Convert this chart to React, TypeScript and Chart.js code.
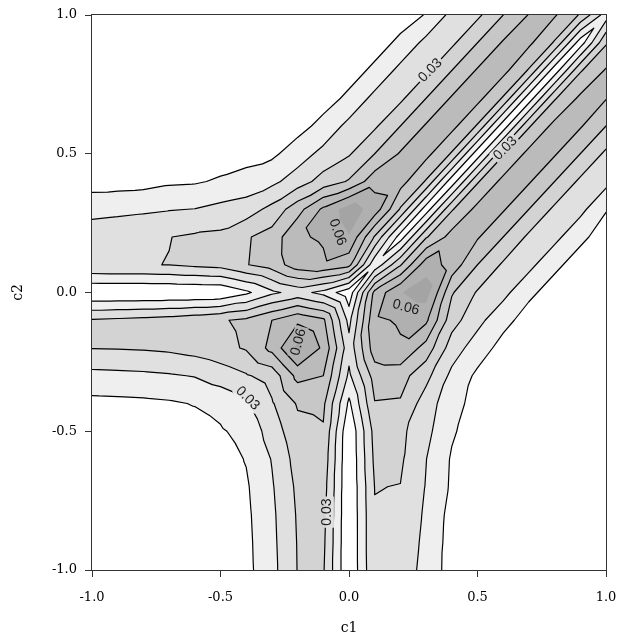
import React, { useEffect, useRef } from 'react';
import { Chart, registerables } from 'chart.js';

Chart.register(...registerables);

// Grid columns (c1) and rows (c2, top row first)
const C1 = [-1, -0.9, -0.8, -0.7, -0.6, -0.5, -0.4, -0.3, -0.2, -0.1, 0, 0.1, 0.2, 0.3, 0.4, 0.5, 0.6, 0.7, 0.8, 0.9, 1];
const C2 = [1, 0.9, 0.8, 0.7, 0.6, 0.5, 0.4, 0.3, 0.2, 0.1, 0, -0.1, -0.2, -0.3, -0.4, -0.5, -0.6, -0.7, -0.8, -0.9, -1];

// Density values (in units of 0.01), one row per c2
const DENSITY_PCT = [
  [0.05, 0.06, 0.07, 0.08, 0.09, 0.1, 0.11, 0.13, 0.16, 0.2, 0.3, 0.4, 0.6, 1.05, 2.3, 2.8, 4.0, 5.05, 5.1, 3.9, 1.5],
  [0.07, 0.08, 0.09, 0.1, 0.11, 0.12, 0.13, 0.16, 0.2, 0.28, 0.4, 0.6, 1.2, 2.3, 2.8, 4.0, 5.1, 5.2, 3.9, 0.45, 3.9],
  [0.1, 0.11, 0.12, 0.13, 0.15, 0.16, 0.18, 0.22, 0.28, 0.4, 0.6, 1.2, 2.3, 2.8, 4.0, 5.1, 5.3, 3.9, 0.4, 3.9, 5.1],
  [0.15, 0.16, 0.17, 0.18, 0.2, 0.22, 0.25, 0.3, 0.42, 0.6, 1.2, 2.3, 2.8, 4.0, 5.1, 5.3, 3.9, 0.4, 3.9, 5.2, 5.05],
  [0.22, 0.23, 0.25, 0.27, 0.3, 0.33, 0.38, 0.45, 0.65, 1.3, 2.3, 2.85, 4.0, 5.1, 5.3, 3.9, 0.4, 3.9, 5.3, 5.1, 4.0],
  [0.35, 0.36, 0.38, 0.42, 0.45, 0.5, 0.65, 0.8, 1.5, 2.3, 2.9, 4.0, 5.1, 5.3, 3.9, 0.4, 3.9, 5.3, 5.1, 4.0, 2.8],
  [0.58, 0.6, 0.65, 0.85, 0.9, 1.12, 1.35, 1.75, 2.5, 3.4, 4.1, 5.6, 5.4, 3.9, 0.4, 3.9, 5.3, 5.1, 4.0, 2.8, 2.3],
  [1.65, 1.75, 1.85, 1.95, 2.02, 2.28, 2.5, 3.3, 4.6, 6.2, 7.5, 6.6, 3.9, 0.45, 3.9, 5.3, 5.1, 4.0, 2.8, 2.3, 1.05],
  [2.6, 2.68, 2.75, 2.98, 3.15, 3.24, 3.9, 4.4, 5.9, 6.1, 6.95, 3.9, 0.5, 3.9, 5.4, 5.1, 4.0, 2.8, 2.3, 1.2, 0.6],
  [2.9, 2.95, 2.95, 3.02, 3.2, 3.35, 3.95, 4.45, 5.55, 5.85, 5.3, 1.25, 3.9, 6.6, 5.6, 4.0, 2.85, 2.3, 1.2, 0.6, 0.4],
  [0.05, 0.05, 0.06, 0.06, 0.08, 0.12, 0.8, 1.8, 2.37, 1.7, 0.3, 5.3, 6.95, 7.5, 4.1, 2.9, 2.3, 1.2, 0.6, 0.4, 0.3],
  [3.1, 3.2, 3.3, 3.45, 3.65, 3.9, 4.2, 5.0, 5.8, 5.2, 1.7, 5.85, 6.1, 6.2, 3.4, 2.3, 1.3, 0.6, 0.4, 0.28, 0.2],
  [3.03, 3.05, 3.1, 3.2, 3.4, 3.7, 4.1, 5.3, 7.25, 5.8, 2.37, 5.55, 5.9, 4.6, 2.5, 1.5, 0.65, 0.42, 0.28, 0.2, 0.16],
  [1.7, 1.75, 1.8, 1.9, 2.05, 2.45, 2.9, 3.4, 5.3, 5.0, 1.8, 4.45, 4.4, 3.3, 1.75, 0.8, 0.45, 0.3, 0.22, 0.16, 0.13],
  [0.72, 0.75, 0.8, 0.88, 1.05, 1.3, 1.9, 2.9, 4.1, 4.2, 0.8, 3.95, 3.9, 2.5, 1.35, 0.65, 0.38, 0.25, 0.18, 0.13, 0.11],
  [0.42, 0.44, 0.46, 0.5, 0.6, 0.9, 1.3, 2.45, 3.7, 3.9, 0.12, 3.35, 3.24, 2.28, 1.12, 0.5, 0.33, 0.22, 0.16, 0.12, 0.1],
  [0.3, 0.32, 0.34, 0.37, 0.45, 0.6, 1.05, 2.05, 3.4, 3.65, 0.08, 3.2, 3.15, 2.02, 0.9, 0.45, 0.3, 0.2, 0.15, 0.11, 0.09],
  [0.22, 0.24, 0.26, 0.3, 0.37, 0.5, 0.88, 1.9, 3.2, 3.45, 0.06, 3.02, 2.98, 1.95, 0.85, 0.42, 0.27, 0.18, 0.13, 0.1, 0.08],
  [0.17, 0.18, 0.2, 0.26, 0.34, 0.46, 0.8, 1.8, 3.1, 3.3, 0.06, 2.95, 2.75, 1.85, 0.65, 0.38, 0.25, 0.17, 0.12, 0.09, 0.07],
  [0.13, 0.14, 0.18, 0.24, 0.32, 0.44, 0.75, 1.75, 3.05, 3.2, 0.05, 2.95, 2.68, 1.75, 0.6, 0.36, 0.23, 0.16, 0.11, 0.08, 0.06],
  [0.1, 0.13, 0.17, 0.22, 0.3, 0.42, 0.72, 1.7, 3.03, 3.1, 0.05, 2.9, 2.6, 1.65, 0.58, 0.35, 0.22, 0.15, 0.1, 0.07, 0.05],
];

// Fill levels (x0.01) and the levels that get a contour line
const FILL_LEVELS_PCT = [1, 2, 3, 4, 5, 6, 7];
const LINE_LEVELS_PCT = [1, 2, 3, 4, 5, 6];
const BAND_COLORS = ['#ffffff', '#efefef', '#e0e0e0', '#d3d3d3', '#c7c7c7', '#bbbbbb', '#b0b0b0', '#a4a4a4'];

const TICK_VALUES = [-1, -0.5, 0, 0.5, 1];
const TICK_LABELS = ['-1.0', '-0.5', '0.0', '0.5', '1.0'];

const LABEL_TEXT = ['0.03', '0.03', '0.06', '0.06', '0.06', '0.03', '0.03'];
const LABEL_C1 = [0.315, 0.607, -0.043, 0.222, -0.198, -0.393, -0.086];
const LABEL_C2 = [0.802, 0.521, 0.218, -0.052, -0.178, -0.38, -0.791];
const LABEL_ANGLE = [-45, -45, 70, 15, -75, 45, -90];

const LABEL_FONT = '14px "Liberation Sans", Arial, sans-serif';
const SERIF = '"DejaVu Serif", "Liberation Serif", serif';
const TICK_FONT = '13px "DejaVu Serif", "Liberation Serif", serif';

const CANVAS_W = 619;
const CANVAS_H = 637;

type P = [number, number, number];

function clipAbove(tri: P[], L: number): P[] {
  const out: P[] = [];
  for (let i = 0; i < tri.length; i++) {
    const a = tri[i];
    const b = tri[(i + 1) % tri.length];
    const ina = a[2] >= L;
    const inb = b[2] >= L;
    if (ina) out.push(a);
    if (ina !== inb) {
      const t = (L - a[2]) / (b[2] - a[2]);
      out.push([a[0] + t * (b[0] - a[0]), a[1] + t * (b[1] - a[1]), L]);
    }
  }
  return out;
}

function buildTriangles(chart: any): P[][] {
  const xs = chart.scales.x;
  const ys = chart.scales.y;
  const px = C1.map((v) => xs.getPixelForValue(v));
  const py = C2.map((v) => ys.getPixelForValue(v));
  const tris: P[][] = [];
  for (let r = 0; r < C2.length - 1; r++) {
    for (let c = 0; c < C1.length - 1; c++) {
      const p00: P = [px[c], py[r + 1], DENSITY_PCT[r + 1][c]];
      const p10: P = [px[c + 1], py[r + 1], DENSITY_PCT[r + 1][c + 1]];
      const p11: P = [px[c + 1], py[r], DENSITY_PCT[r][c + 1]];
      const p01: P = [px[c], py[r], DENSITY_PCT[r][c]];
      tris.push([p00, p10, p11], [p00, p11, p01]);
    }
  }
  return tris;
}

const contourPlugin = {
  id: 'contourPlugin',
  beforeDatasetsDraw(chart: any) {
    const { ctx, chartArea: a } = chart;
    const w = a.right - a.left;
    const h = a.bottom - a.top;
    const tris = buildTriangles(chart);

    ctx.save();
    ctx.beginPath();
    ctx.rect(a.left, a.top, w, h);
    ctx.clip();
    ctx.fillStyle = BAND_COLORS[0];
    ctx.fillRect(a.left, a.top, w, h);

    FILL_LEVELS_PCT.forEach((L, k) => {
      ctx.beginPath();
      for (const t of tris) {
        const poly = clipAbove(t, L);
        if (poly.length < 3) continue;
        ctx.moveTo(poly[0][0], poly[0][1]);
        for (let i = 1; i < poly.length; i++) ctx.lineTo(poly[i][0], poly[i][1]);
        ctx.closePath();
      }
      ctx.fillStyle = BAND_COLORS[k + 1];
      ctx.fill('nonzero');
    });

    ctx.font = LABEL_FONT;
    const labels = LABEL_TEXT.map((txt, i) => ({
      txt,
      x: chart.scales.x.getPixelForValue(LABEL_C1[i]),
      y: chart.scales.y.getPixelForValue(LABEL_C2[i]),
      ang: (LABEL_ANGLE[i] * Math.PI) / 180,
      hw: ctx.measureText(txt).width / 2 + 2,
      hh: 7,
    }));

    ctx.save();
    ctx.beginPath();
    ctx.rect(a.left, a.top, w, h);
    for (const lb of labels) {
      const cs = Math.cos(lb.ang);
      const sn = Math.sin(lb.ang);
      const pts = [
        [-lb.hw, -lb.hh],
        [lb.hw, -lb.hh],
        [lb.hw, lb.hh],
        [-lb.hw, lb.hh],
      ].map(([u, v]) => [lb.x + u * cs - v * sn, lb.y + u * sn + v * cs]);
      ctx.moveTo(pts[0][0], pts[0][1]);
      for (let i = 1; i < 4; i++) ctx.lineTo(pts[i][0], pts[i][1]);
      ctx.closePath();
    }
    ctx.clip('evenodd');

    ctx.beginPath();
    for (const L of LINE_LEVELS_PCT) {
      for (const t of tris) {
        const pts: number[][] = [];
        for (let i = 0; i < 3; i++) {
          const p = t[i];
          const q = t[(i + 1) % 3];
          if ((p[2] >= L) !== (q[2] >= L)) {
            const s = (L - p[2]) / (q[2] - p[2]);
            pts.push([p[0] + s * (q[0] - p[0]), p[1] + s * (q[1] - p[1])]);
          }
        }
        if (pts.length === 2) {
          ctx.moveTo(pts[0][0], pts[0][1]);
          ctx.lineTo(pts[1][0], pts[1][1]);
        }
      }
    }
    ctx.lineWidth = 1.2;
    ctx.strokeStyle = '#000';
    ctx.lineCap = 'round';
    ctx.stroke();
    ctx.restore();

    ctx.fillStyle = '#1a1a1a';
    ctx.font = LABEL_FONT;
    ctx.textAlign = 'center';
    ctx.textBaseline = 'middle';
    for (const lb of labels) {
      ctx.save();
      ctx.translate(lb.x, lb.y);
      ctx.rotate(lb.ang);
      ctx.fillText(lb.txt, 0, 0.5);
      ctx.restore();
    }
    ctx.restore();
  },
  afterDraw(chart: any) {
    const { ctx, chartArea: a, scales } = chart;
    ctx.save();
    ctx.strokeStyle = '#333';
    ctx.lineWidth = 1;
    ctx.strokeRect(Math.round(a.left) - 0.5, Math.round(a.top) - 0.5, Math.round(a.right - a.left) + 1, Math.round(a.bottom - a.top) + 1);

    ctx.fillStyle = '#000';
    ctx.font = TICK_FONT;
    ctx.textBaseline = 'middle';
    ctx.textAlign = 'center';
    TICK_VALUES.forEach((v, i) => {
      ctx.fillText(TICK_LABELS[i], scales.x.getPixelForValue(v), a.bottom + 28);
    });
    ctx.textAlign = 'right';
    TICK_VALUES.forEach((v, i) => {
      ctx.fillText(TICK_LABELS[i], a.left - 15, scales.y.getPixelForValue(v));
    });
    ctx.restore();
  },
};

export default function App() {
  const ref = useRef<HTMLCanvasElement | null>(null);
  useEffect(() => {
    if (!ref.current) return;
    const axisCommon = (title: string, isX: boolean) => ({
      type: 'linear' as const,
      min: -1,
      max: 1,
      position: isX ? ('bottom' as const) : ('left' as const),
      afterBuildTicks: (scale: any) => {
        scale.ticks = TICK_VALUES.map((v) => ({ value: v }));
      },
      afterFit: (scale: any) => {
        if (isX) scale.height = 67;
        else scale.width = 92;
        scale.paddingTop = 0;
        scale.paddingBottom = 0;
        scale.paddingLeft = 0;
        scale.paddingRight = 0;
      },
      ticks: { display: false },
      grid: { display: true, drawOnChartArea: false, drawTicks: true, tickLength: 7, color: '#333', lineWidth: 1 },
      border: { display: false },
      title: {
        display: true,
        text: title,
        font: { family: SERIF, size: 14 },
        color: '#000',
        padding: isX ? { top: 0, bottom: 0 } : { top: 10, bottom: 0 },
      },
    });
    const chart = new Chart(ref.current, {
      type: 'scatter',
      data: { datasets: [] },
      options: {
        animation: false,
        responsive: false,
        layout: { padding: { top: 15, right: 13, left: 0, bottom: 0 } },
        plugins: { legend: { display: false }, tooltip: { enabled: false } },
        scales: {
          x: axisCommon('c1', true),
          y: axisCommon('c2', false),
        },
      },
      plugins: [contourPlugin],
    } as any);
    return () => chart.destroy();
  }, []);
  return (
    <div style={{ position: 'absolute', left: 0, top: 0, width: CANVAS_W, height: CANVAS_H, overflow: 'hidden' }}>
      <canvas ref={ref} width={CANVAS_W} height={CANVAS_H} style={{ display: 'block', width: CANVAS_W, height: CANVAS_H }} />
    </div>
  );
}
